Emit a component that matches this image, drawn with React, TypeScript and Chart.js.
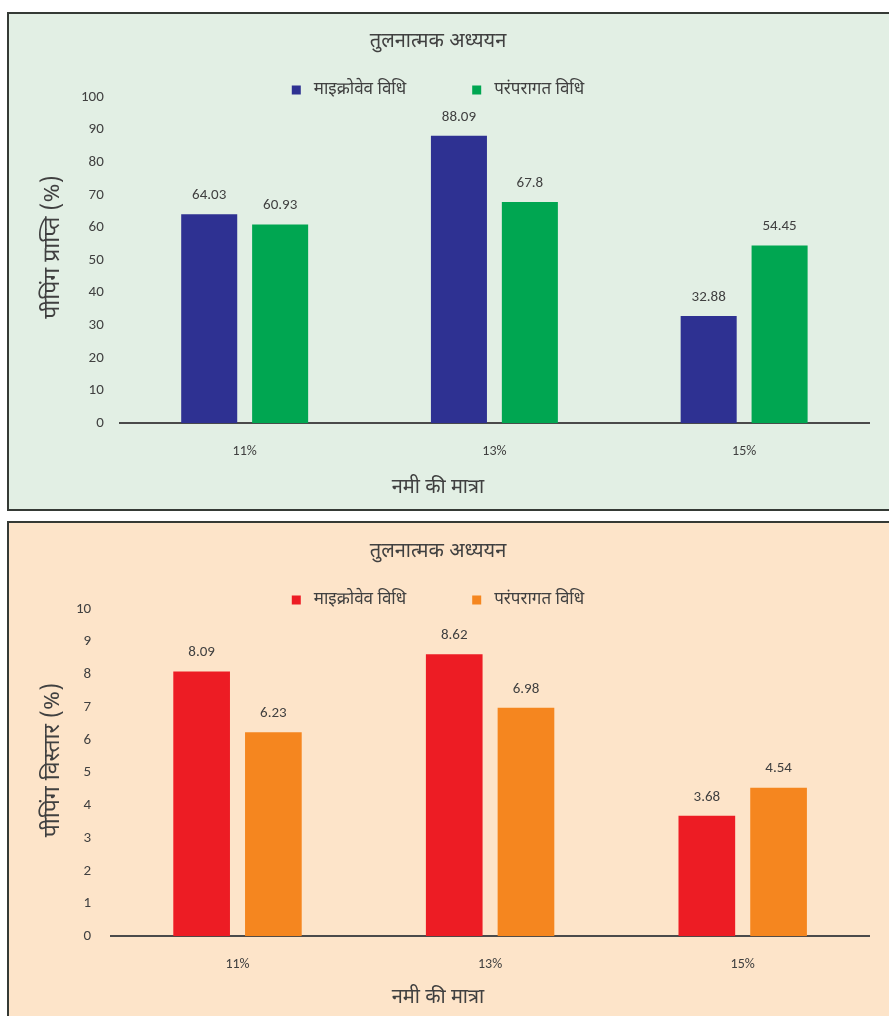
import React, { useEffect, useRef } from "react";
import { Chart, registerables } from "chart.js";

Chart.register(...registerables);

// ---------- data ----------
const categories = ["11%", "13%", "15%"];
const seriesNames = ["माइक्रोवेव विधि", "परंपरागत विधि"];
const chartTitle = "तुलनात्मक अध्ययन";
const xAxisTitle = "नमी की मात्रा";

const recoveryTitle = "पीपिंग प्राप्ति (%)";
const recoveryMicrowave = [64.03, 88.09, 32.88];
const recoveryTraditional = [60.93, 67.8, 54.45];
const recoveryMax = 100;
const recoveryStep = 10;

const expansionTitle = "पीपिंग विस्तार (%)";
const expansionMicrowave = [8.09, 8.62, 3.68];
const expansionTraditional = [6.23, 6.98, 4.54];
const expansionMax = 10;
const expansionStep = 1;

// ---------- styles ----------
const DEV = '"Noto Sans Devanagari", "Lohit Devanagari", "Noto Sans", Lato, sans-serif';
const NUM = 'Carlito, Lato, "Open Sans", sans-serif';
const TEXT = "#404040";

type Deco = {
  centerX: number;
  titleY: number;
  legendY: number;
  xTitleY: number;
  yTitle: string;
  yTitleX: number;
  yTitleY: number;
};

function makeDecorations(d: Deco) {
  return {
    id: "decorations",
    afterDatasetsDraw(chart: any) {
      const ctx = chart.ctx;
      ctx.save();
      // value labels above bars
      ctx.font = `15px ${NUM}`;
      ctx.fillStyle = TEXT;
      ctx.textAlign = "center";
      ctx.textBaseline = "middle";
      chart.data.datasets.forEach((ds: any, i: number) => {
        const meta = chart.getDatasetMeta(i);
        meta.data.forEach((el: any, j: number) => {
          ctx.fillText(String(ds.data[j]), el.x, el.y - 19);
        });
      });

      // chart title
      ctx.font = `20px ${DEV}`;
      ctx.fillText(chartTitle, d.centerX, d.titleY);

      // x-axis title
      ctx.fillText(xAxisTitle, d.centerX, d.xTitleY);

      // y-axis title (rotated)
      ctx.save();
      ctx.translate(d.yTitleX, d.yTitleY);
      ctx.rotate(-Math.PI / 2);
      ctx.font = `23px ${DEV}`;
      ctx.fillText(d.yTitle, 0, 0);
      ctx.restore();

      // legend
      ctx.font = `17px ${DEV}`;
      const box = 9;
      const gapBoxText = 13;
      const gapItems = 66;
      const widths = seriesNames.map((s) => ctx.measureText(s).width);
      const total = box + gapBoxText + widths[0] + gapItems + box + gapBoxText + widths[1];
      let x = d.centerX - total / 2;
      ctx.textAlign = "left";
      seriesNames.forEach((name, i) => {
        ctx.fillStyle = chart.data.datasets[i].backgroundColor;
        ctx.fillRect(x, d.legendY - box / 2, box, box);
        x += box + gapBoxText;
        ctx.fillStyle = TEXT;
        ctx.fillText(name, x, d.legendY + 1);
        x += widths[i] + gapItems;
      });
      ctx.restore();
    },
  };
}

type PanelProps = {
  top: number;
  height: number;
  bg: string;
  colors: string[];
  a: number[];
  b: number[];
  yMax: number;
  yStep: number;
  bottomBorder: boolean;
  padTop: number;
  padBottom: number;
  padLeft: number;
  tickPad: number;
  deco: Deco;
};

function BarPanel(p: PanelProps) {
  const ref = useRef<HTMLCanvasElement | null>(null);
  const innerH = p.height - 2 - (p.bottomBorder ? 2 : 0);
  useEffect(() => {
    if (!ref.current) return;
    const chart = new Chart(ref.current, {
      type: "bar",
      data: {
        labels: categories,
        datasets: [
          { label: seriesNames[0], data: p.a, backgroundColor: p.colors[0], categoryPercentage: 0.568, barPercentage: 0.79 },
          { label: seriesNames[1], data: p.b, backgroundColor: p.colors[1], categoryPercentage: 0.568, barPercentage: 0.79 },
        ],
      },
      options: {
        responsive: false,
        animation: false,
        layout: { padding: { left: p.padLeft, right: 20, top: p.padTop, bottom: p.padBottom } },
        plugins: {
          title: { display: false },
          legend: { display: false },
          tooltip: { enabled: false },
        },
        scales: {
          x: {
            grid: { display: false },
            border: { display: true, color: "#4a4a4a", width: 2 },
            ticks: { color: TEXT, font: { family: NUM, size: 14 }, padding: 12 },
          },
          y: {
            min: 0,
            max: p.yMax,
            grid: { display: false },
            border: { display: false },
            ticks: { stepSize: p.yStep, color: TEXT, font: { family: NUM, size: 15 }, padding: p.tickPad },
          },
        },
      },
      plugins: [makeDecorations(p.deco)],
    });
    return () => chart.destroy();
  }, []);
  return (
    <div
      style={{
        position: "absolute",
        left: 7,
        top: p.top,
        width: 882,
        height: p.height,
        boxSizing: "border-box",
        background: p.bg,
        borderTop: "2px solid #353a35",
        borderLeft: "2px solid #353a35",
        borderBottom: p.bottomBorder ? "2px solid #353a35" : "none",
        overflow: "hidden",
      }}
    >
      <canvas ref={ref} width={880} height={innerH} style={{ display: "block", width: 880, height: innerH }} />
    </div>
  );
}

export default function App() {
  return (
    <div>
      <BarPanel
        top={12}
        height={499}
        bg="#e2efe4"
        colors={["#2e3192", "#00a651"]}
        a={recoveryMicrowave}
        b={recoveryTraditional}
        yMax={recoveryMax}
        yStep={recoveryStep}
        bottomBorder={true}
        padTop={83}
        padBottom={37}
        padLeft={64}
        tickPad={8}
        deco={{ centerX: 429, titleY: 29, legendY: 76, xTitleY: 475, yTitle: recoveryTitle, yTitleX: 46, yTitleY: 233 }}
      />
      <BarPanel
        top={521}
        height={495}
        bg="#fde4c9"
        colors={["#ed1c24", "#f5861f"]}
        a={expansionMicrowave}
        b={expansionTraditional}
        yMax={expansionMax}
        yStep={expansionStep}
        bottomBorder={false}
        padTop={86}
        padBottom={31}
        padLeft={55}
        tickPad={12}
        deco={{ centerX: 429, titleY: 30, legendY: 77, xTitleY: 476, yTitle: expansionTitle, yTitleX: 46, yTitleY: 237 }}
      />
    </div>
  );
}
